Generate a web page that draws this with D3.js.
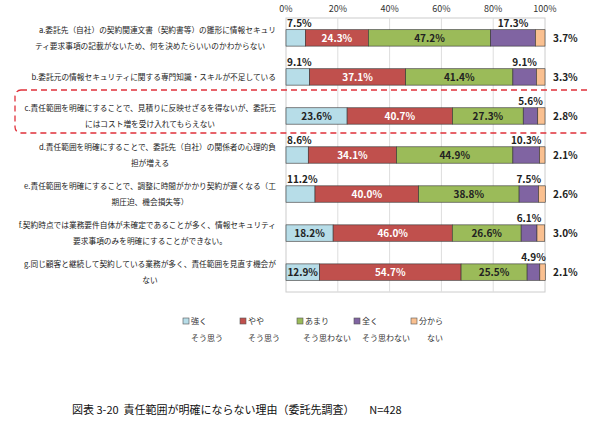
<!DOCTYPE html><html><head><meta charset="utf-8"><script src="https://cdn.jsdelivr.net/npm/d3@7"></script>
<style>body{margin:0;background:#fff}text{font-family:"Noto Sans CJK JP",sans-serif}</style></head><body><svg id="c" width="590" height="428"></svg><script>
const categories=["a.委託先（自社）の契約関連文書（契約書等）の雛形に情報セキュリ|ティ要求事項の記載がないため、何を決めたらいいのかわからない","b.委託元の情報セキュリティに関する専門知識・スキルが不足している","c.責任範囲を明確にすることで、見積りに反映せざるを得ないが、委託元|にはコスト増を受け入れてもらえない","d.責任範囲を明確にすることで、委託先（自社）の関係者の心理的負|担が増える","e.責任範囲を明確にすることで、調整に時間がかかり契約が遅くなる（工|期圧迫、機会損失等）","f.契約時点では業務要件自体が未確定であることが多く、情報セキュリティ|要求事項のみを明確にすることができない。","g.同じ顧客と継続して契約している業務が多く、責任範囲を見直す機会が|ない"];
const strongly=[7.5,9.1,23.6,8.6,11.2,18.2,12.9];
const somewhat=[24.3,37.1,40.7,34.1,40.0,46.0,54.7];
const notMuch=[47.2,41.4,27.3,44.9,38.8,26.6,25.5];
const notAtAll=[17.3,9.1,5.6,10.3,7.5,6.1,4.9];
const unknown=[3.7,3.3,2.8,2.1,2.6,3.0,2.1];
const seriesNames=["強く|そう思う","やや|そう思う","あまり|そう思わない","全く|そう思わない","分から|ない"];
const tickLabels=["0%","20%","40%","60%","80%","100%"];
const colors=["#b7dde8","#c0504d","#9bbb59","#8064a2","#fac090"];
const series=[strongly,somewhat,notMuch,notAtAll,unknown];
const svg=d3.select("#c");
const x=d3.scaleLinear().domain([0,100]).range([286,545]);
const y=d3.scaleBand().domain(d3.range(7)).range([18,292]).paddingInner(0.58).paddingOuter(0.3);
svg.append("rect").attr("x",286).attr("y",18).attr("width",259).attr("height",274).attr("fill","none").attr("stroke","#ccc");
[20,40,60,80].forEach(v=>svg.append("line").attr("x1",x(v)).attr("x2",x(v)).attr("y1",18).attr("y2",292).attr("stroke","#ddd"));
tickLabels.forEach((t,i)=>svg.append("text").attr("x",x(i*20)).attr("y",12).attr("text-anchor","middle").attr("font-size",9).attr("fill","#333").text(t));
categories.forEach((c,i)=>{
 const lines=c.split("|");const cy=y(i)+y.bandwidth()/2;
 lines.forEach((l,j)=>svg.append("text").attr("x",lines.length>1&&j==1?150:276).attr("text-anchor",lines.length>1&&j==1?"middle":"end").attr("y",cy-(lines.length-1)*8+j*16+3).attr("font-size",7.7).attr("fill","#222").text(l));
 let acc=0;
 series.forEach((s,k)=>{
  const v=s[i];
  svg.append("rect").attr("x",x(acc)).attr("y",y(i)).attr("width",x(acc+v)-x(acc)).attr("height",y.bandwidth()).attr("fill",colors[k]).attr("stroke","#333").attr("stroke-width",0.6);
  const lab=v.toFixed(1)+"%";const t=svg.append("text").attr("font-size",10).attr("font-weight","bold").text(lab);
  if(k==0){ if(v>=12) t.attr("x",x(acc+v/2)).attr("y",cy+4).attr("text-anchor","middle").attr("fill","#222"); else t.attr("x",x(0)+1).attr("y",y(i)-3).attr("fill","#222");}
  else if(k<3){t.attr("x",x(acc+v/2)).attr("y",cy+4).attr("text-anchor","middle").attr("fill",k==1?"#fff":"#222");}
  else if(k==3){t.attr("x",x(acc+v/2)).attr("y",y(i)-3).attr("text-anchor","middle").attr("fill","#222");}
  else {t.attr("x",x(100)+8).attr("y",cy+4).attr("fill","#222");}
  acc+=v;
 });
});
svg.append("rect").attr("x",15).attr("y",90).attr("width",580).attr("height",43).attr("rx",6).attr("fill","none").attr("stroke","#e0303a").attr("stroke-width",1.3).attr("stroke-dasharray","6,4");
seriesNames.forEach((n,k)=>{const lx=183+k*57;const p=n.split("|");
 svg.append("rect").attr("x",lx).attr("y",318).attr("width",6).attr("height",6).attr("fill",colors[k]).attr("stroke","#555").attr("stroke-width",0.6);
 svg.append("text").attr("x",lx+8).attr("y",324).attr("font-size",8).attr("fill","#333").text(p[0]);
 svg.append("text").attr("x",lx+8+(k==4?8:0)+(k==2?-2:0)).attr("y",341).attr("font-size",8).attr("fill","#333").text(p[1]);});
svg.append("text").attr("x",72).attr("y",414).attr("font-size",11).attr("fill","#111").attr("xml:space","preserve").text("図表 3-20  責任範囲が明確にならない理由（委託先調査）      N=428");
</script></body></html>
